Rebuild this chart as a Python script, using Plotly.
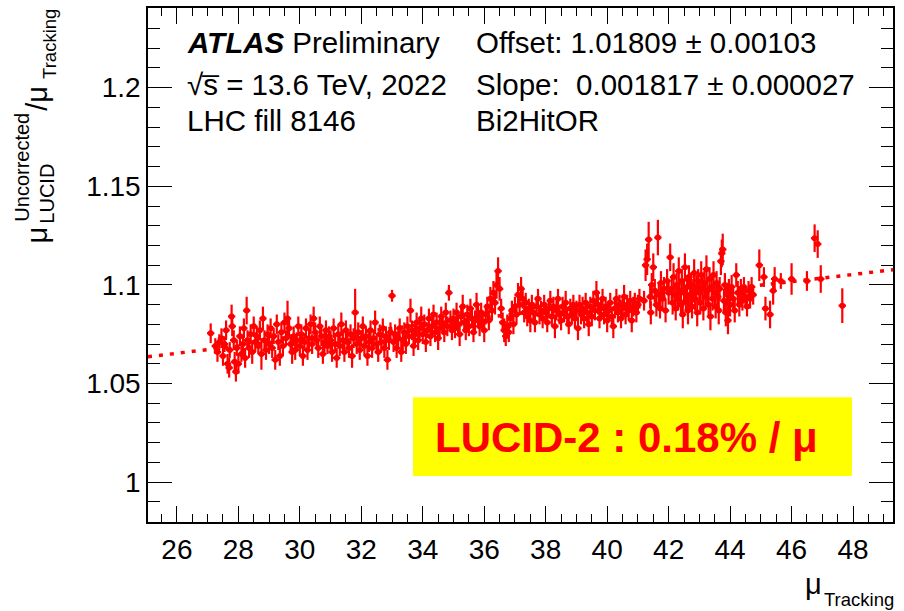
import plotly.graph_objects as go

# ---- fit result printed on the plot ----
offset = 1.01809
slope = 0.001817
fit_x = [25.06, 49.30]

# ---- data: (mu_Tracking, ratio, stat. error) ----
seg_27_29 = [
    (27.10, 1.0755, .005), (27.25, 1.069, .004), (27.32, 1.066, .005), (27.38, 1.071, .004),
    (27.45, 1.073, .005), (27.50, 1.064, .005), (27.55, 1.070, .004), (27.60, 1.077, .005),
    (27.65, 1.060, .005), (27.70, 1.058, .005), (27.72, 1.067, .004), (27.78, 1.084, .006),
    (27.80, 1.079, .005), (27.85, 1.072, .005), (27.88, 1.061, .005), (27.92, 1.056, .005),
    (27.95, 1.068, .004), (28.00, 1.060, .005), (28.05, 1.074, .005), (28.10, 1.065, .004),
    (28.15, 1.070, .005), (28.18, 1.078, .005), (28.22, 1.063, .005), (28.27, 1.087, .007),
    (28.30, 1.072, .005), (28.35, 1.068, .005), (28.40, 1.075, .005), (28.45, 1.066, .006),
    (28.50, 1.079, .005), (28.55, 1.071, .005), (28.60, 1.074, .005), (28.65, 1.069, .004),
    (28.70, 1.077, .005), (28.75, 1.065, .008), (28.80, 1.083, .006), (28.85, 1.072, .005),
    (28.90, 1.067, .005), (28.95, 1.075, .005), (29.00, 1.070, .005),
]
seg_29_31 = [
    (29.05, 1.078, .005), (29.10, 1.068, .005), (29.15, 1.074, .004), (29.20, 1.062, .005),
    (29.25, 1.080, .005), (29.30, 1.071, .004), (29.35, 1.064, .005), (29.40, 1.076, .005),
    (29.45, 1.069, .005), (29.50, 1.081, .005), (29.55, 1.073, .004), (29.60, 1.083, .009),
    (29.65, 1.078, .005), (29.70, 1.070, .005), (29.75, 1.066, .006), (29.80, 1.074, .005),
    (29.85, 1.067, .005), (29.90, 1.072, .004), (29.95, 1.079, .005), (30.00, 1.069, .005),
    (30.05, 1.075, .005), (30.10, 1.064, .005), (30.15, 1.071, .004), (30.20, 1.078, .005),
    (30.25, 1.067, .005), (30.30, 1.073, .005), (30.35, 1.080, .005), (30.40, 1.070, .005),
    (30.45, 1.083, .006), (30.50, 1.076, .005), (30.55, 1.072, .004), (30.60, 1.068, .005),
    (30.65, 1.079, .005), (30.70, 1.074, .005), (30.75, 1.065, .005), (30.80, 1.071, .005),
    (30.85, 1.077, .005), (30.90, 1.069, .004), (30.95, 1.074, .005),
]
seg_31_33 = [
    (31.00, 1.072, .005), (31.05, 1.066, .005), (31.10, 1.078, .005), (31.15, 1.070, .004),
    (31.20, 1.063, .005), (31.25, 1.075, .005), (31.30, 1.069, .005), (31.35, 1.080, .006),
    (31.40, 1.072, .005), (31.45, 1.066, .005), (31.50, 1.077, .005), (31.55, 1.071, .004),
    (31.60, 1.068, .005), (31.65, 1.075, .005), (31.70, 1.064, .006), (31.75, 1.073, .005),
    (31.80, 1.086, .012), (31.85, 1.070, .005), (31.90, 1.076, .005), (31.95, 1.067, .005),
    (32.00, 1.073, .004), (32.05, 1.079, .005), (32.10, 1.069, .005), (32.15, 1.074, .005),
    (32.20, 1.064, .005), (32.25, 1.071, .005), (32.30, 1.077, .005), (32.35, 1.068, .005),
    (32.40, 1.073, .004), (32.45, 1.081, .006), (32.50, 1.070, .005), (32.55, 1.066, .005),
    (32.60, 1.075, .005), (32.65, 1.071, .005), (32.70, 1.078, .005), (32.75, 1.068, .005),
    (32.80, 1.074, .005), (32.85, 1.062, .005), (32.90, 1.072, .005), (32.95, 1.076, .005),
    (33.00, 1.0945, .003),
]
seg_33_35 = [
    (33.05, 1.071, .005), (33.10, 1.075, .005), (33.15, 1.068, .005), (33.20, 1.073, .004),
    (33.25, 1.078, .005), (33.30, 1.066, .005), (33.35, 1.072, .005), (33.40, 1.076, .005),
    (33.45, 1.070, .005), (33.50, 1.079, .005), (33.55, 1.074, .004), (33.60, 1.087, .006),
    (33.65, 1.077, .005), (33.70, 1.069, .005), (33.75, 1.075, .005), (33.80, 1.081, .005),
    (33.85, 1.072, .005), (33.90, 1.078, .005), (33.95, 1.083, .006), (34.00, 1.075, .005),
    (34.05, 1.080, .005), (34.10, 1.071, .005), (34.15, 1.077, .004), (34.20, 1.083, .005),
    (34.25, 1.074, .005), (34.30, 1.079, .005), (34.35, 1.085, .005), (34.40, 1.076, .005),
    (34.45, 1.081, .005), (34.50, 1.073, .006), (34.55, 1.078, .005), (34.60, 1.084, .005),
    (34.65, 1.080, .005), (34.70, 1.076, .005), (34.75, 1.086, .005), (34.80, 1.079, .005),
    (34.85, 1.096, .004), (34.90, 1.082, .005), (34.95, 1.077, .005),
]
seg_35_37 = [
    (35.00, 1.083, .005), (35.05, 1.078, .005), (35.10, 1.086, .005), (35.15, 1.080, .005),
    (35.20, 1.075, .006), (35.25, 1.084, .005), (35.30, 1.089, .006), (35.35, 1.081, .005),
    (35.40, 1.077, .005), (35.45, 1.085, .005), (35.50, 1.079, .005), (35.55, 1.088, .005),
    (35.60, 1.083, .005), (35.65, 1.076, .005), (35.70, 1.082, .005), (35.75, 1.090, .006),
    (35.80, 1.084, .005), (35.85, 1.079, .005), (35.90, 1.086, .005), (35.95, 1.081, .005),
    (36.00, 1.077, .006), (36.05, 1.085, .005), (36.10, 1.089, .005), (36.15, 1.082, .005),
    (36.20, 1.093, .006), (36.25, 1.087, .005), (36.30, 1.096, .006), (36.35, 1.091, .006),
    (36.40, 1.100, .007), (36.45, 1.107, .007), (36.50, 1.098, .006), (36.55, 1.088, .005),
    (36.60, 1.081, .005), (36.65, 1.077, .006), (36.70, 1.074, .005), (36.75, 1.079, .006),
    (36.80, 1.076, .005), (36.85, 1.083, .005), (36.90, 1.087, .005), (36.95, 1.080, .005),
]
seg_37_39 = [
    (37.00, 1.089, .005), (37.05, 1.085, .005), (37.10, 1.095, .006), (37.15, 1.090, .005),
    (37.20, 1.098, .006), (37.25, 1.093, .005), (37.30, 1.086, .005), (37.35, 1.091, .005),
    (37.40, 1.084, .005), (37.45, 1.088, .005), (37.50, 1.082, .006), (37.55, 1.090, .005),
    (37.60, 1.086, .005), (37.65, 1.081, .005), (37.70, 1.089, .005), (37.75, 1.093, .005),
    (37.80, 1.085, .005), (37.85, 1.087, .005), (37.90, 1.083, .005), (37.95, 1.090, .005),
    (38.00, 1.086, .005), (38.05, 1.081, .005), (38.10, 1.088, .005), (38.15, 1.092, .005),
    (38.20, 1.084, .005), (38.25, 1.089, .005), (38.30, 1.079, .006), (38.35, 1.087, .005),
    (38.40, 1.093, .005), (38.45, 1.085, .005), (38.50, 1.082, .005), (38.55, 1.089, .005),
    (38.60, 1.086, .005), (38.65, 1.091, .006), (38.70, 1.084, .005), (38.75, 1.080, .005),
    (38.80, 1.088, .005), (38.85, 1.085, .005), (38.90, 1.090, .005), (38.95, 1.083, .005),
]
seg_39_41 = [
    (39.00, 1.087, .005), (39.05, 1.078, .006), (39.10, 1.090, .005), (39.15, 1.085, .005),
    (39.20, 1.088, .006), (39.25, 1.083, .005), (39.30, 1.091, .005), (39.35, 1.086, .005),
    (39.40, 1.080, .006), (39.45, 1.089, .005), (39.50, 1.084, .005), (39.55, 1.092, .005),
    (39.60, 1.087, .005), (39.65, 1.096, .006), (39.70, 1.090, .005), (39.75, 1.083, .005),
    (39.80, 1.088, .005), (39.85, 1.093, .005), (39.90, 1.085, .005), (39.95, 1.089, .005),
    (40.00, 1.082, .006), (40.05, 1.087, .005), (40.10, 1.091, .005), (40.15, 1.084, .005),
    (40.20, 1.079, .006), (40.25, 1.088, .005), (40.30, 1.093, .005), (40.35, 1.086, .005),
    (40.40, 1.090, .005), (40.45, 1.083, .005), (40.50, 1.088, .005), (40.55, 1.094, .006),
    (40.60, 1.085, .005), (40.65, 1.090, .005), (40.70, 1.087, .005), (40.75, 1.092, .005),
    (40.80, 1.082, .006), (40.85, 1.089, .005), (40.90, 1.091, .005), (40.95, 1.086, .005),
    (41.00, 1.090, .005), (41.05, 1.093, .005),
]
seg_41_42 = [
    (41.20, 1.092, .005), (41.25, 1.110, .008), (41.30, 1.113, .008), (41.35, 1.123, .009),
    (41.40, 1.094, .006), (41.42, 1.086, .006), (41.45, 1.100, .006), (41.50, 1.109, .007),
    (41.55, 1.097, .006), (41.60, 1.090, .006), (41.65, 1.124, .009), (41.68, 1.095, .006),
    (41.72, 1.088, .005), (41.75, 1.101, .006), (41.80, 1.093, .006), (41.85, 1.098, .006),
    (41.90, 1.087, .006), (41.95, 1.102, .006), (42.00, 1.096, .006), (42.05, 1.114, .007),
]
seg_42_45 = [
    (42.10, 1.098, .006), (42.13, 1.091, .006), (42.16, 1.104, .007), (42.20, 1.095, .006),
    (42.23, 1.088, .006), (42.26, 1.100, .006), (42.30, 1.093, .006), (42.33, 1.107, .007),
    (42.36, 1.097, .006), (42.40, 1.090, .006), (42.43, 1.102, .006), (42.46, 1.085, .007),
    (42.50, 1.096, .006), (42.53, 1.109, .007), (42.56, 1.092, .006), (42.60, 1.099, .006),
    (42.63, 1.087, .007), (42.66, 1.104, .006), (42.70, 1.095, .006), (42.73, 1.100, .006),
    (42.76, 1.089, .006), (42.80, 1.097, .006), (42.83, 1.106, .007), (42.86, 1.093, .006),
    (42.90, 1.099, .006), (42.93, 1.086, .007), (42.96, 1.102, .006), (43.00, 1.096, .006),
    (43.03, 1.091, .006), (43.06, 1.105, .007), (43.10, 1.098, .006), (43.13, 1.088, .006),
    (43.16, 1.101, .006), (43.20, 1.094, .006), (43.23, 1.108, .007), (43.26, 1.097, .006),
    (43.30, 1.090, .006), (43.33, 1.103, .006), (43.36, 1.084, .007), (43.40, 1.099, .006),
    (43.43, 1.093, .006), (43.46, 1.105, .007), (43.50, 1.096, .006), (43.53, 1.089, .006),
    (43.56, 1.101, .006), (43.60, 1.094, .006), (43.63, 1.087, .007), (43.66, 1.098, .006),
    (43.70, 1.112, .007), (43.73, 1.116, .007), (43.76, 1.118, .008), (43.80, 1.092, .006),
    (43.83, 1.100, .006), (43.86, 1.086, .007), (43.90, 1.095, .006), (43.93, 1.082, .007),
    (43.96, 1.097, .006), (44.00, 1.090, .006), (44.05, 1.099, .006), (44.10, 1.093, .006),
    (44.15, 1.087, .006), (44.20, 1.105, .006), (44.25, 1.096, .006), (44.30, 1.090, .006),
    (44.35, 1.098, .005), (44.40, 1.092, .005), (44.45, 1.099, .005), (44.50, 1.094, .005),
    (44.55, 1.089, .005), (44.60, 1.097, .005), (44.65, 1.093, .005), (44.70, 1.099, .005),
    (44.75, 1.095, .005),
]
seg_45_48 = [
    (44.95, 1.110, .008), (45.10, 1.104, .005), (45.15, 1.088, .006), (45.30, 1.085, .007),
    (45.40, 1.097, .007), (45.45, 1.103, .006), (45.65, 1.102, .004), (46.00, 1.103, .008),
    (46.50, 1.102, .005), (46.75, 1.1237, .007), (46.85, 1.1207, .007), (46.95, 1.103, .007),
    (47.65, 1.0895, .0088),
]

segments = [seg_27_29, seg_29_31, seg_31_33, seg_33_35, seg_35_37,
            seg_37_39, seg_39_41, seg_41_42, seg_42_45, seg_45_48]
mu = [p[0] for s in segments for p in s]
ratio = [p[1] for s in segments for p in s]
err = [p[2] for s in segments for p in s]

RED = "#ff0000"
FONT = "Liberation Sans, Arial, Helvetica, sans-serif"

fig = go.Figure()
fig.add_trace(go.Scatter(
    x=fit_x, y=[offset + slope * v for v in fit_x], mode="lines",
    line=dict(color=RED, width=3.5, dash="4px,7px"), hoverinfo="skip", showlegend=False))
fig.add_trace(go.Scatter(
    x=mu, y=ratio, mode="markers",
    marker=dict(color=RED, size=6, symbol="circle", line=dict(width=0)),
    error_y=dict(type="data", array=err, visible=True, color=RED, thickness=2.2, width=0),
    error_x=dict(type="constant", value=0.12, visible=True, color=RED, thickness=2.2, width=0),
    showlegend=False))

def px2paper(px, py):
    return (px - 148) / 745, (522 - py) / 515

annotations = []
def add_text(text, px, py, size, xanchor="left", yanchor="middle", angle=0, color="black", family=FONT):
    x, y = px2paper(px, py)
    annotations.append(dict(text=text, x=x, y=y, xref="paper", yref="paper",
                            xanchor=xanchor, yanchor=yanchor, showarrow=False, textangle=angle,
                            font=dict(size=size, color=color, family=family)))

# top text block
add_text("<b><i>ATLAS</i></b> Preliminary", 185, 42, 29.5)
add_text("\u221as\u0305 = 13.6 TeV, 2022", 185, 84, 29.5)
add_text("LHC fill 8146", 185, 120, 29.5)
add_text("Offset: 1.01809 \u00b1 0.00103", 474, 42, 29.5)
add_text("Slope:\u00a0\u00a00.001817 \u00b1 0.000027", 474, 84, 29.5)
add_text("Bi2HitOR", 474, 120, 29.5)

# y axis title pieces (rotated)
add_text("\u03bc", 37, 234, 29, "center", "middle", -90)
add_text("Uncorrected", 22, 166, 20, "center", "middle", -90)
add_text("LUCID", 47, 193, 20, "center", "middle", -90)
add_text("/\u03bc", 37, 97, 29, "center", "middle", -90)
add_text("Tracking", 50, 43, 18.5, "center", "middle", -90)

# x axis title
add_text("\u03bc", 813, 584, 29, "center", "middle")
add_text("Tracking", 859, 600, 18.5, "center", "middle")

# highlighted label
add_text("<b>LUCID-2 : 0.18% / \u03bc</b>", 626, 437, 42, "center", "middle", 0, RED)

bx0, by0 = px2paper(413, 476)
bx1, by1 = px2paper(852, 397)
fig.add_shape(type="rect", xref="paper", yref="paper", x0=bx0, x1=bx1, y0=by0, y1=by1,
              fillcolor="#ffff00", line=dict(width=0), layer="above")

axis_common = dict(showgrid=False, zeroline=False, showline=True, linecolor="black",
                   linewidth=1.5, mirror="ticks", ticks="inside", tickcolor="black",
                   tickwidth=1.3, tickfont=dict(family=FONT, size=28, color="black"))

fig.update_layout(
    width=904, height=611,
    margin=dict(l=148, r=11, t=6, b=89),
    paper_bgcolor="white", plot_bgcolor="white",
    annotations=annotations,
    xaxis=dict(range=[25.06, 49.30], dtick=2, tick0=0, ticklen=16,
               ticklabelstandoff=2,
               minor=dict(dtick=0.5, ticklen=8, ticks="inside", tickcolor="black", tickwidth=1.3, showgrid=False),
               **axis_common),
    yaxis=dict(range=[0.9798, 1.2404], dtick=0.05, tick0=0, ticklen=24,
               minor=dict(dtick=0.01, ticklen=12, ticks="inside", tickcolor="black", tickwidth=1.3, showgrid=False),
               **axis_common),
)

fig.write_html("out.html")
